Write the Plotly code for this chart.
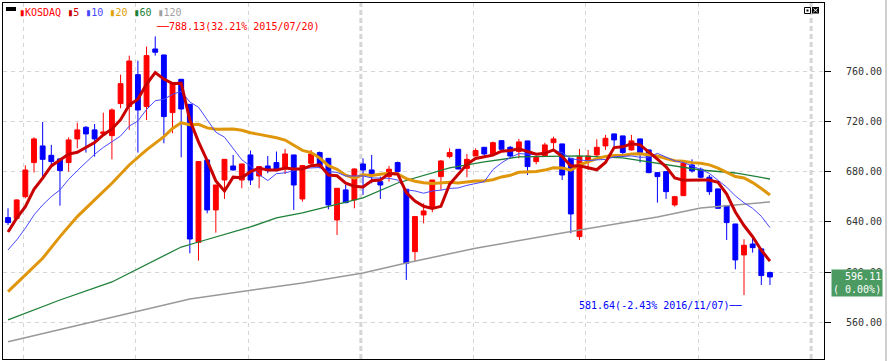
import plotly.graph_objects as go

# ---------------- data (weekly KOSDAQ, 2015/03/23 .. 2016/11/28) ----------------
OPEN = [643.5, 642.9, 660.2, 687.4, 700.7, 693.2, 690.3, 687.4, 706.3, 715.6,
        713.5, 710.5, 708.9, 734.5, 732.1, 757.6, 732.1, 778.1, 773.3, 727.3,
        753.9, 733.9, 623.8, 689.5, 649.6, 673.5, 684.7, 673.5, 693.5, 676.7,
        684.7, 687.4, 682.8, 693.5, 658.4, 686.8, 695.4, 690.8, 641.6, 665.6,
        657.6, 686.3, 681.5, 672.2, 676.2, 687.4, 666.1, 616.3, 645.6, 651.7,
        676.2, 692.2, 698.0, 682.8, 692.7, 699.6, 694.3, 704.9, 699.6, 696.2,
        704.7, 688.2, 692.7, 703.3, 702.3, 690.8, 628.3, 689.2, 693.5, 700.7,
        710.3, 708.7, 697.5, 706.3, 697.5, 679.4, 680.2, 653.6, 661.0, 685.5,
        682.1, 675.7, 666.4, 653.0, 638.4, 613.7, 622.4, 618.5, 599.6]
HIGH = [650.9, 658.0, 685.2, 707.6, 719.8, 701.5, 690.8, 707.6, 719.3, 716.6,
        718.2, 727.3, 730.7, 757.6, 772.8, 768.8, 780.0, 788.13, 773.5, 751.0,
        754.0, 734.0, 688.5, 689.6, 669.6, 690.1, 693.5, 686.4, 697.0, 684.5,
        692.7, 696.2, 698.3, 693.6, 685.5, 697.5, 696.2, 690.9, 667.0, 669.5,
        682.8, 690.8, 693.5, 676.2, 684.7, 688.2, 666.2, 644.8, 654.9, 673.6,
        689.5, 698.8, 698.1, 694.3, 698.8, 699.7, 704.1, 705.4, 700.7, 706.3,
        704.8, 691.7, 703.3, 708.1, 702.4, 690.9, 698.3, 697.5, 706.0, 709.5,
        710.4, 708.8, 709.5, 706.4, 697.6, 679.5, 680.3, 660.8, 688.2, 690.0,
        683.4, 677.5, 666.5, 653.1, 638.5, 626.2, 627.0, 618.6, 600.4]
LOW = [637.6, 642.0, 658.9, 679.4, 676.2, 684.7, 653.0, 680.2, 698.8, 695.4,
       692.2, 710.3, 690.0, 730.7, 713.5, 695.4, 721.4, 772.8, 702.8, 710.8,
       691.6, 615.0, 609.1, 646.9, 631.5, 658.4, 681.0, 666.9, 669.5, 666.9,
       678.9, 681.0, 678.3, 649.6, 656.2, 685.5, 682.8, 650.1, 629.6, 655.0,
       650.9, 661.6, 670.9, 658.4, 672.2, 680.0, 593.7, 608.3, 638.9, 647.7,
       665.6, 690.8, 682.0, 675.7, 692.5, 692.7, 694.0, 697.8, 691.6, 690.8,
       677.5, 686.0, 692.2, 697.5, 673.5, 631.0, 625.6, 681.5, 692.7, 697.5,
       700.1, 694.3, 697.0, 687.4, 678.9, 655.4, 658.4, 652.2, 660.8, 679.4,
       674.9, 661.6, 650.8, 625.6, 602.2, 581.64, 615.5, 589.7, 589.7]
CLOSE = [639.5, 657.6, 681.5, 706.3, 690.0, 688.2, 681.0, 705.5, 713.5, 710.3,
         706.3, 711.9, 729.4, 750.4, 768.5, 729.4, 772.8, 775.5, 724.1, 750.7,
         730.2, 626.4, 688.2, 649.6, 669.5, 690.0, 681.5, 686.3, 673.5, 684.2,
         681.5, 681.5, 694.3, 669.5, 685.0, 694.3, 684.7, 653.6, 666.9, 655.4,
         682.3, 681.5, 678.3, 669.5, 682.1, 680.2, 607.0, 644.3, 648.8, 673.5,
         688.7, 695.4, 682.3, 690.0, 697.0, 694.3, 703.3, 698.0, 692.7, 703.9,
         684.2, 691.6, 701.5, 706.3, 677.5, 646.4, 692.2, 692.7, 699.6, 706.8,
         705.5, 695.4, 704.7, 695.4, 679.4, 676.2, 664.2, 660.2, 686.8, 680.7,
         675.7, 664.2, 650.9, 639.5, 609.7, 621.4, 619.5, 597.2, 596.11]
WEEK_IDX = list(range(len(CLOSE)))

# moving-average values before a full window exists
MA5_HEAD_X = [0, 1, 2, 3]
MA5_HEAD = [632.0, 643.0, 652.2, 666.0]
MA10_HEAD_X = [0, 1, 2, 3, 4, 5, 6, 7, 8]
MA10_HEAD = [617.7, 625.6, 635.0, 645.6, 653.6, 660.2, 665.6, 674.0, 681.0]
MA20_HEAD_X = [0, 2, 4, 6, 8, 10, 12, 14, 16, 18]
MA20_HEAD = [584.4, 597.7, 611.0, 628.3, 644.3, 657.6, 670.9, 685.5, 697.5, 708.1]
MA60_X = [0, 6, 12, 15, 20, 22, 28, 31, 34, 41, 45, 51, 55, 59, 66, 71, 75, 80, 84, 88]
MA60 = [561.8, 577.7, 592.1, 602.5, 620.0, 624.0, 636.0, 643.2, 647.2, 659.2,
        671.1, 683.1, 687.9, 691.9, 692.7, 691.1, 687.1, 681.5, 679.1, 674.3]
MA120_X = [0, 11, 21, 34, 41, 46, 54, 66, 75, 80, 85, 88]
MA120 = [544.4, 562.1, 578.5, 591.3, 599.3, 607.3, 619.0, 633.6, 644.0, 651.2, 654.4, 656.0]

Y_TICKS = [560, 600, 640, 680, 720, 760]
QUARTER_GRID = [1.75, 14.75, 27.75, 53.75, 66.75, 79.75]
YEAR_GRID = [40.75, 92.75]

HIGH_NOTE = "788.13(32.21% 2015/07/20)"
LOW_NOTE = "581.64(-2.43% 2016/11/07)"
HIGH_IDX, LOW_IDX = 17, 85
LAST_LABEL = "596.11<br>( 0.00%)"


def sma(vals, n, head_x, head):
    xs, ys = list(head_x), list(head)
    for i in range(n - 1, len(vals)):
        xs.append(i)
        ys.append(sum(vals[i - n + 1:i + 1]) / n)
    return xs, ys


# ---------------- geometry helpers ----------------
W, H = 888, 361
ML, MR, MT, MB = 3, 64, 3, 2
PW, PH = W - ML - MR, H - MT - MB


def px(x):
    return (x - ML) / PW


def py(y):
    return 1 - (y - MT) / PH


FONT = "DejaVu Sans Mono"
FS = 10

fig = go.Figure()
fig.add_trace(go.Candlestick(
    x=WEEK_IDX, open=OPEN, high=HIGH, low=LOW, close=CLOSE,
    increasing=dict(line=dict(color="#ff0000", width=1), fillcolor="#ff0000"),
    decreasing=dict(line=dict(color="#0000ff", width=1), fillcolor="#0000ff"),
    whiskerwidth=0, hoverinfo="skip", showlegend=False))

fig.add_trace(go.Scatter(x=MA120_X, y=MA120, mode="lines",
                         line=dict(color="#999999", width=1.5), showlegend=False, hoverinfo="skip"))
fig.add_trace(go.Scatter(x=MA60_X, y=MA60, mode="lines",
                         line=dict(color="#1e8038", width=1.3), showlegend=False, hoverinfo="skip"))
x20, y20 = sma(CLOSE, 20, MA20_HEAD_X, MA20_HEAD)
fig.add_trace(go.Scatter(x=x20, y=y20, mode="lines",
                         line=dict(color="#e0960a", width=3), showlegend=False, hoverinfo="skip"))
x10, y10 = sma(CLOSE, 10, MA10_HEAD_X, MA10_HEAD)
fig.add_trace(go.Scatter(x=x10, y=y10, mode="lines",
                         line=dict(color="#4848ff", width=1), showlegend=False, hoverinfo="skip"))
x5, y5 = sma(CLOSE, 5, MA5_HEAD_X, MA5_HEAD)
fig.add_trace(go.Scatter(x=x5, y=y5, mode="lines",
                         line=dict(color="#c80000", width=3), showlegend=False, hoverinfo="skip"))

shapes = []
for g in YEAR_GRID:
    shapes.append(dict(type="line", xref="x", yref="paper", x0=g, x1=g, y0=0, y1=1,
                       line=dict(color="#d6d6d6", width=3, dash="5px,3px"), layer="below"))
# top-left black marker
shapes.append(dict(type="rect", xref="paper", yref="paper", x0=px(6), x1=px(16), y0=py(11), y1=py(7),
                   fillcolor="black", line=dict(width=0)))
# top-right window icons
shapes.append(dict(type="rect", xref="paper", yref="paper", x0=px(804.5), x1=px(810.5), y0=py(13.5), y1=py(7.5),
                   fillcolor="white", line=dict(color="black", width=1)))
shapes.append(dict(type="rect", xref="paper", yref="paper", x0=px(806.5), x1=px(808.5), y0=py(11.5), y1=py(9.5),
                   fillcolor="black", line=dict(width=0)))
shapes.append(dict(type="rect", xref="paper", yref="paper", x0=px(812), x1=px(819), y0=py(13.5), y1=py(7),
                   fillcolor="black", line=dict(width=0)))
shapes.append(dict(type="line", xref="paper", yref="paper", x0=px(813.5), x1=px(817.5), y0=py(8.5), y1=py(12),
                   line=dict(color="white", width=1)))
shapes.append(dict(type="line", xref="paper", yref="paper", x0=px(817.5), x1=px(813.5), y0=py(8.5), y1=py(12),
                   line=dict(color="white", width=1)))
# outer right frame line
shapes.append(dict(type="line", xref="paper", yref="paper", x0=px(886), x1=px(886), y0=py(361), y1=py(0),
                   line=dict(color="#a0a0a0", width=1)))

legend_txt = ("<span style='color:#ff0000'>▮KOSDAQ</span> "
              "<span style='color:#c80000'>▮5</span> "
              "<span style='color:#4848ff'>▮10</span> "
              "<span style='color:#e0a000'>▮20</span> "
              "<span style='color:#1e8038'>▮60</span> "
              "<span style='color:#a0a0a0'>▮120</span>")

annotations = [
    dict(xref="paper", yref="paper", x=px(17), y=py(13), xanchor="left", yanchor="middle",
         text=legend_txt, showarrow=False, font=dict(family=FONT, size=FS)),
    # high marker
    dict(x=HIGH_IDX, y=HIGH[HIGH_IDX], text=" ", showarrow=True, ax=0, ay=-9,
         arrowcolor="#ff0000", arrowwidth=1, arrowhead=2, arrowsize=0.8, standoff=1),
    dict(x=HIGH_IDX, y=HIGH[HIGH_IDX], yshift=10, xshift=-1, xanchor="left", yanchor="middle",
         text="──" + HIGH_NOTE, showarrow=False, font=dict(family=FONT, size=FS, color="#ff0000")),
    # low marker
    dict(x=LOW_IDX, y=LOW[LOW_IDX], text=" ", showarrow=True, ax=0, ay=10,
         arrowcolor="#0000ff", arrowwidth=1, arrowhead=2, arrowsize=0.8, standoff=1),
    dict(x=LOW_IDX, y=LOW[LOW_IDX], yshift=-10, xshift=1, xanchor="right", yanchor="middle",
         text=LOW_NOTE + "──", showarrow=False, font=dict(family=FONT, size=FS, color="#0000ff")),
    # last price label
    dict(xref="paper", yref="paper", x=px(883), y=py(282.7), xanchor="right", yanchor="middle",
         text=LAST_LABEL, showarrow=False, align="right", bgcolor="#4a9a62", borderpad=1,
         font=dict(family=FONT, size=FS, color="white")),
]

fig.update_layout(
    width=W, height=H, margin=dict(l=ML, r=MR, t=MT, b=MB, autoexpand=False),
    paper_bgcolor="white", plot_bgcolor="white", boxgap=0.2,
    shapes=shapes, annotations=annotations, showlegend=False,
    xaxis=dict(range=[-0.58, 94.24], tickvals=QUARTER_GRID, showticklabels=False, ticks="",
               showgrid=True, gridcolor="#d6d6d6", griddash="4px,4px", gridwidth=1,
               showline=True, linecolor="black", linewidth=1, mirror=True, zeroline=False,
               rangeslider=dict(visible=False), fixedrange=True),
    yaxis=dict(range=[530.6, 814.8], side="right", tickvals=Y_TICKS, tickformat=".2f",
               ticks="outside", ticklen=6, tickcolor="black", ticklabelstandoff=13,
               tickfont=dict(family=FONT, size=FS, color="#333333"),
               showgrid=True, gridcolor="#d6d6d6", griddash="4px,4px", gridwidth=1,
               showline=True, linecolor="black", linewidth=1, mirror=True, zeroline=False,
               fixedrange=True),
)

fig.write_html("out.html", config={"displayModeBar": False},
               post_script="document.body.style.margin='0px';document.body.style.overflow='hidden';")
